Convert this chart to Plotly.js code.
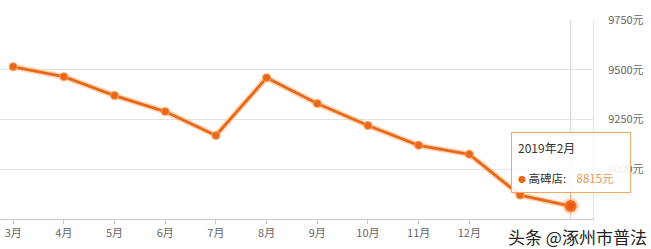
<!DOCTYPE html>
<html>
<head>
<meta charset="utf-8">
<script src="https://cdn.plot.ly/plotly-3.0.1.min.js"></script>
<style>html,body{margin:0;padding:0;background:#fff;}#chart{width:651px;height:249px;}</style>
</head>
<body>
<div id="chart"></div>
<script>
const months = ['3月','4月','5月','6月','7月','8月','9月','10月','11月','12月','1月','2月'];
const prices = [9515, 9465, 9370, 9290, 9170, 9460, 9330, 9220, 9120, 9075, 8870, 8815];
const shownMonthLabels = ['3月','4月','5月','6月','7月','8月','9月','10月','11月','12月'];
const yTicks = [9000, 9250, 9500, 9750];
const yTickText = ['9000元', '9250元', '9500元', '9750元'];
const storeName = '高碑店';
const hoverTitle = '2019年2月';
const watermark = '头条 @涿州市普法';

const last = months.length - 1;
const orange = '#e8671a';
const font = '"Noto Sans CJK SC", "Noto Sans", sans-serif';

const traces = [
  { x: months, y: prices, type: 'scatter', mode: 'lines',
    line: { color: 'rgba(250,170,100,0.45)', width: 6 }, hoverinfo: 'skip', showlegend: false },
  { x: months, y: prices, type: 'scatter', mode: 'lines+markers',
    line: { color: orange, width: 2.8 },
    marker: { color: orange, size: 8, line: { color: 'rgba(250,170,100,0.6)', width: 1.5 } },
    showlegend: false },
  { x: [months[last]], y: [prices[last]], type: 'scatter', mode: 'markers',
    marker: { color: '#f05a10', size: 12, line: { color: 'rgba(245,150,80,0.35)', width: 5 } },
    showlegend: false }
];

const layout = {
  width: 651, height: 249,
  margin: { l: 0, r: 58, t: 20, b: 30 },
  paper_bgcolor: '#fff', plot_bgcolor: '#fff',
  font: { family: font, size: 11, color: '#666' },
  xaxis: {
    type: 'category', range: [-0.26, 11.44],
    tickmode: 'array', tickvals: shownMonthLabels, ticktext: shownMonthLabels,
    showgrid: false, zeroline: false,
    showline: true, linecolor: '#cccccc', linewidth: 1,
    ticks: 'outside', ticklen: 4, tickcolor: '#cccccc',
    tickfont: { family: font, size: 11, color: '#666' }
  },
  yaxis: {
    side: 'right', range: [8750, 9750],
    tickvals: yTicks, ticktext: yTickText,
    showgrid: true, gridcolor: '#e3e3e3', gridwidth: 1,
    zeroline: false, showline: true, linecolor: '#e3e3e3',
    ticks: '', ticklabelstandoff: 12,
    tickfont: { family: font, size: 11, color: '#666' }
  },
  shapes: [
    { type: 'line', xref: 'x', yref: 'paper', x0: months[last], x1: months[last], y0: 0, y1: 1,
      line: { color: '#cfcfcf', width: 1 }, layer: 'below' }
  ],
  annotations: [
    { xref: 'x', yref: 'y', x: months[last], y: prices[last],
      text: '<span style="color:#333;font-size:12px">' + hoverTitle + '</span><br> <br>' +
            '<span style="color:' + orange + ';font-size:8px">●</span><span style="color:#333"> ' + storeName + ':</span>' +
            '<span style="color:#e89a5a">    ' + prices[last] + '元</span>',
      showarrow: true, ax: 0, ay: -44, arrowhead: 0, arrowwidth: 1, arrowcolor: '#f0a060', standoff: 8,
      align: 'left', width: 106, borderpad: 6,
      bgcolor: 'rgba(255,255,255,0.88)', bordercolor: '#f0a868', borderwidth: 1,
      font: { family: font, size: 11.5, color: '#333' } },
    { xref: 'paper', yref: 'paper', x: 1, y: 0, xanchor: 'right', yanchor: 'middle',
      xshift: 56, yshift: -17, showarrow: false, text: watermark, bgcolor: 'rgba(255,255,255,0)',
      font: { family: font, size: 17, color: '#222' } }
  ]
};

Plotly.newPlot('chart', traces, layout, { displayModeBar: false, staticPlot: true });
</script>
</body>
</html>
